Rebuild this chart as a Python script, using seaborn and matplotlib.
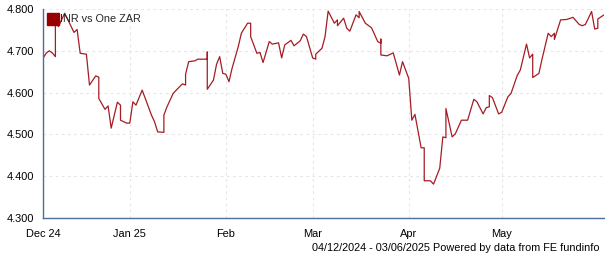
import matplotlib
matplotlib.use("Agg")
import matplotlib.pyplot as plt
from matplotlib.lines import Line2D
import seaborn as sns
import pandas as pd

dates = [
    "2024-12-04", "2024-12-05", "2024-12-06", "2024-12-07", "2024-12-08", "2024-12-08",
    "2024-12-09", "2024-12-11", "2024-12-14", "2024-12-15", "2024-12-16", "2024-12-18",
    "2024-12-19", "2024-12-21", "2024-12-22", "2024-12-22", "2024-12-24", "2024-12-25",
    "2024-12-26", "2024-12-28", "2024-12-29", "2024-12-29", "2024-12-31", "2025-01-01",
    "2025-01-02", "2025-01-03", "2025-01-05", "2025-01-06", "2025-01-08", "2025-01-09",
    "2025-01-10", "2025-01-12", "2025-01-12", "2025-01-13", "2025-01-15", "2025-01-16",
    "2025-01-18", "2025-01-19", "2025-01-19", "2025-01-20", "2025-01-22", "2025-01-23",
    "2025-01-25", "2025-01-26", "2025-01-26", "2025-01-26", "2025-01-28", "2025-01-29",
    "2025-01-30", "2025-01-31", "2025-02-01", "2025-02-02", "2025-02-03", "2025-02-05",
    "2025-02-06", "2025-02-08", "2025-02-09", "2025-02-09", "2025-02-11", "2025-02-12",
    "2025-02-13", "2025-02-15", "2025-02-16", "2025-02-18", "2025-02-19", "2025-02-20",
    "2025-02-22", "2025-02-23", "2025-02-25", "2025-02-26", "2025-02-27", "2025-03-01",
    "2025-03-02", "2025-03-02", "2025-03-04", "2025-03-05", "2025-03-06", "2025-03-08",
    "2025-03-09", "2025-03-09", "2025-03-11", "2025-03-12", "2025-03-13", "2025-03-15",
    "2025-03-16", "2025-03-16", "2025-03-18", "2025-03-20", "2025-03-22", "2025-03-23",
    "2025-03-23", "2025-03-23", "2025-03-25", "2025-03-27", "2025-03-29", "2025-03-30",
    "2025-04-01", "2025-04-02", "2025-04-03", "2025-04-05", "2025-04-06", "2025-04-06",
    "2025-04-08", "2025-04-09", "2025-04-11", "2025-04-12", "2025-04-13", "2025-04-13",
    "2025-04-15", "2025-04-16", "2025-04-18", "2025-04-20", "2025-04-22", "2025-04-23",
    "2025-04-25", "2025-04-26", "2025-04-27", "2025-04-27", "2025-04-28", "2025-04-30",
    "2025-05-01", "2025-05-03", "2025-05-04", "2025-05-06", "2025-05-07", "2025-05-09",
    "2025-05-10", "2025-05-11", "2025-05-11", "2025-05-13", "2025-05-14", "2025-05-16",
    "2025-05-17", "2025-05-18", "2025-05-18", "2025-05-20", "2025-05-22", "2025-05-24",
    "2025-05-26", "2025-05-27", "2025-05-28", "2025-05-30", "2025-05-31", "2025-06-01",
    "2025-06-01", "2025-06-03",
]
values = [
    4.682, 4.694, 4.700, 4.695, 4.686, 4.774,
    4.758, 4.790, 4.744, 4.751, 4.694, 4.692,
    4.618, 4.640, 4.637, 4.586, 4.560, 4.568,
    4.515, 4.577, 4.570, 4.534, 4.527, 4.527,
    4.578, 4.570, 4.606, 4.586, 4.546, 4.530,
    4.506, 4.505, 4.546, 4.566, 4.598, 4.606,
    4.621, 4.618, 4.644, 4.674, 4.676, 4.680,
    4.680, 4.680, 4.697, 4.608, 4.630, 4.668,
    4.686, 4.646, 4.644, 4.626, 4.658, 4.710,
    4.742, 4.766, 4.766, 4.734, 4.694, 4.696,
    4.672, 4.722, 4.716, 4.719, 4.683, 4.714,
    4.725, 4.712, 4.724, 4.740, 4.734, 4.683,
    4.680, 4.692, 4.706, 4.734, 4.795, 4.766,
    4.774, 4.760, 4.778, 4.754, 4.747, 4.786,
    4.779, 4.794, 4.766, 4.755, 4.722, 4.718,
    4.728, 4.690, 4.688, 4.695, 4.642, 4.674,
    4.634, 4.534, 4.548, 4.468, 4.468, 4.389,
    4.389, 4.381, 4.419, 4.494, 4.492, 4.562,
    4.494, 4.501, 4.534, 4.534, 4.584, 4.578,
    4.549, 4.564, 4.566, 4.593, 4.588, 4.549,
    4.553, 4.590, 4.598, 4.641, 4.654, 4.716,
    4.683, 4.692, 4.636, 4.646, 4.680, 4.742,
    4.734, 4.742, 4.727, 4.774, 4.775, 4.780,
    4.763, 4.760, 4.763, 4.794, 4.752, 4.754,
    4.776, 4.786,
]

series_name = "INR vs One ZAR"
tick_dates = ["2024-12-04", "2025-01-01", "2025-02-01", "2025-03-01",
              "2025-04-01", "2025-05-01", "2025-06-03"]
tick_labels = ["Dec 24", "Jan 25", "Feb", "Mar", "Apr", "May", ""]
y_ticks = [4.3, 4.4, 4.5, 4.6, 4.7, 4.8]
footer = "04/12/2024 - 03/06/2025 Powered by data from FE fundinfo"

sns.set_style("white")
plt.rcParams["font.family"] = ["Liberation Sans", "DejaVu Sans"]

df = pd.DataFrame({"date": pd.to_datetime(dates), "value": values})

fig = plt.figure(figsize=(6.05, 2.60), dpi=100)
ax = fig.add_axes([43 / 605, 42 / 260, 561 / 605, 209 / 260])

line_color = "#a51c24"
sns.lineplot(data=df, x="date", y="value", ax=ax, estimator=None, sort=False,
             color=line_color, linewidth=0.9)

ax.set_xlim(pd.Timestamp(tick_dates[0]), pd.Timestamp(tick_dates[-1]))
ax.set_ylim(4.3, 4.8)

tick_pos = pd.to_datetime(tick_dates)
ax.set_xticks(tick_pos)
ax.set_xticklabels(tick_labels)
ax.set_yticks(y_ticks)
ax.set_yticklabels([f"{v:.3f}" for v in y_ticks])
ax.set_xlabel("")
ax.set_ylabel("")

for v in y_ticks[1:]:
    ax.axhline(v, color="#e6e6e6", linewidth=0.8, linestyle=(0, (2.5, 3)), zorder=0)
for d in tick_pos[1:-1]:
    ax.axvline(d, color="#e6e6e6", linewidth=0.8, linestyle=(0, (2.5, 3)), zorder=0)

spine_color = "#4a6f9f"
for s in ["top", "right"]:
    ax.spines[s].set_visible(False)
for s in ["left", "bottom"]:
    ax.spines[s].set_color(spine_color)
    ax.spines[s].set_linewidth(1.0)

ax.tick_params(axis="both", which="both", direction="out", length=4, width=1,
               color=spine_color, labelsize=7.9, labelcolor="#000000", pad=2)
ax.tick_params(axis="x", pad=4)

handle = Line2D([], [], marker="s", linestyle="none", markersize=9,
                markerfacecolor="#990000", markeredgecolor="#990000")
ax.legend([handle], [series_name], loc="upper left", frameon=False,
          fontsize=7.8, handletextpad=0.2, borderaxespad=0.0,
          bbox_to_anchor=(0.0, 0.995), handlelength=1.0)

fig.text(600 / 605, 1 - 248 / 260, footer, ha="right", va="center",
         fontsize=7.8, color="#000000")

fig.savefig("out.png", dpi=100)
